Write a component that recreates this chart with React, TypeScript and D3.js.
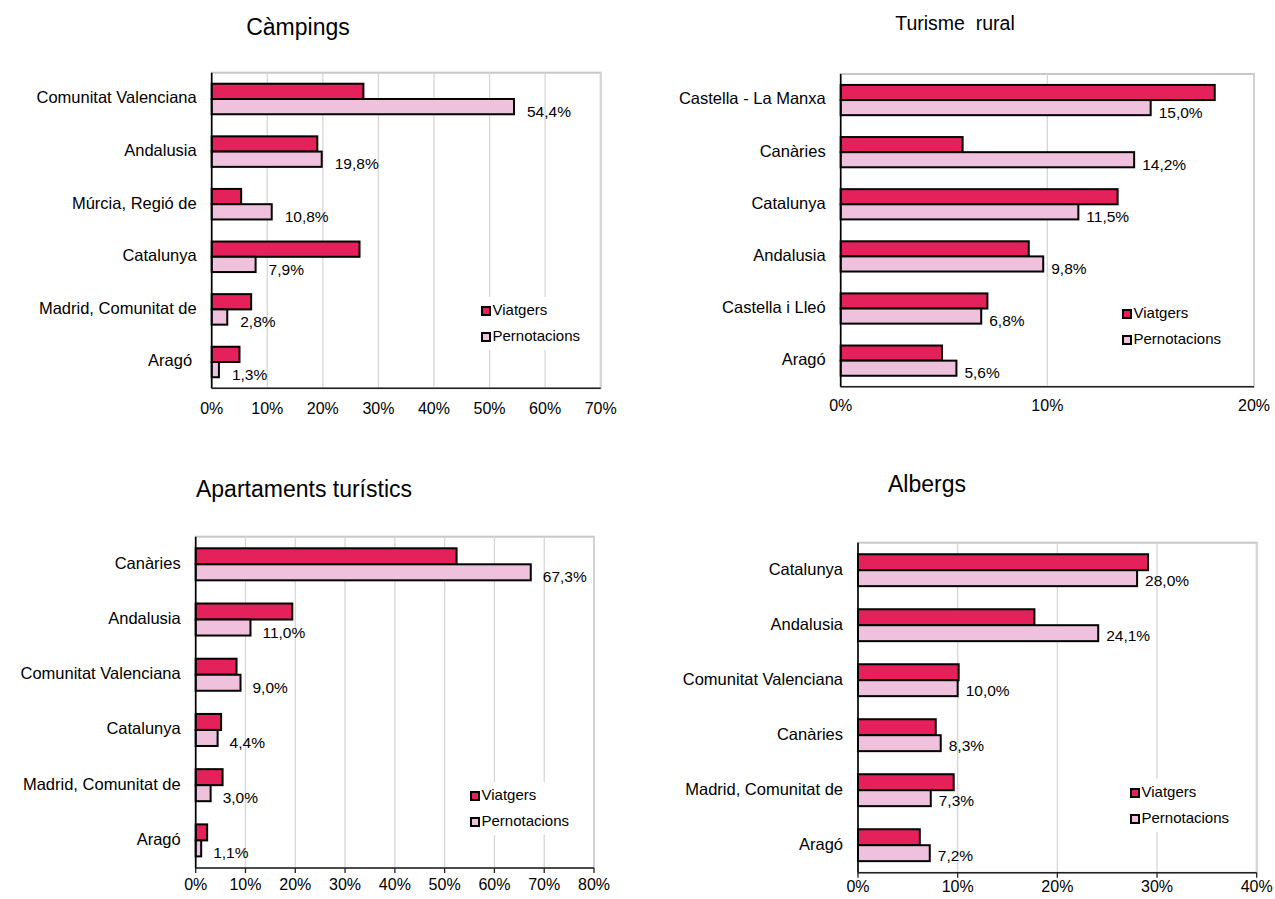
// four small horizontal bar charts - share of viatgers and pernotacions by region, per accommodation type
import React from 'react';
import * as d3 from 'd3';

// series names (legend)
const seriesNames = ['Viatgers', 'Pernotacions'];

// Càmpings
const campCats = ['Comunitat Valenciana', 'Andalusia', 'Múrcia, Regió de', 'Catalunya', 'Madrid, Comunitat de', 'Aragó '];
const campViatgers = [27.3, 19.0, 5.3, 26.6, 7.1, 5.0];
const campPernot = [54.4, 19.8, 10.8, 7.9, 2.8, 1.3];
const campTicks = [0, 10, 20, 30, 40, 50, 60, 70];

// Turisme rural
const ruralCats = ['Castella - La Manxa', 'Canàries', 'Catalunya', 'Andalusia', 'Castella i Lleó', 'Aragó'];
const ruralViatgers = [18.1, 5.9, 13.4, 9.1, 7.1, 4.9];
const ruralPernot = [15.0, 14.2, 11.5, 9.8, 6.8, 5.6];
const ruralTicks = [0, 10, 20];

// Apartaments turístics
const apartCats = ['Canàries', 'Andalusia', 'Comunitat Valenciana', 'Catalunya', 'Madrid, Comunitat de', 'Aragó'];
const apartViatgers = [52.4, 19.4, 8.2, 5.1, 5.4, 2.3];
const apartPernot = [67.3, 11.0, 9.0, 4.4, 3.0, 1.1];
const apartTicks = [0, 10, 20, 30, 40, 50, 60, 70, 80];

// Albergs
const albCats = ['Catalunya', 'Andalusia', 'Comunitat Valenciana', 'Canàries', 'Madrid, Comunitat de', 'Aragó'];
const albViatgers = [29.1, 17.7, 10.1, 7.8, 9.6, 6.2];
const albPernot = [28.0, 24.1, 10.0, 8.3, 7.3, 7.2];
const albTicks = [0, 10, 20, 30, 40];

const FONT = '"Liberation Sans", Arial, sans-serif';
const colors = ['#E5215C', '#F0C1DC'];

const fmt = (v: number) => v.toFixed(1).replace('.', ',') + '%';

type PanelProps = {
  title: string; titleX: number; titleY: number; titleSize: number;
  cats: string[]; viatgers: number[]; pernot: number[]; ticks: number[];
  x0: number; x1: number; y0: number; y1: number; tickDy: number;
  legX: number; legY: number; tickMarks: boolean; labDx: number; labDy: number;
};

const Panel = (p: PanelProps) => {
  const xScale = d3.scaleLinear().domain([0, p.ticks[p.ticks.length - 1]]).range([p.x0, p.x1]);
  // outer band per region, inner band per series
  const yScale = d3.scaleBand().domain(p.cats).range([p.y0, p.y1]).paddingInner(0.42).paddingOuter(0.21);
  const sScale = d3.scaleBand().domain(seriesNames).range([0, yScale.bandwidth()]);
  const rows = p.cats.map((c, i) => ({ cat: c, vals: [p.viatgers[i], p.pernot[i]] }));

  return (
    <g fontFamily={FONT}>
      <text x={p.titleX} y={p.titleY} textAnchor="middle" fontSize={p.titleSize} fill="#000" style={{ whiteSpace: 'pre' }}>{p.title}</text>
      {/* plot frame (top/right) */}
      <rect x={p.x0} y={p.y0} width={p.x1 - p.x0} height={p.y1 - p.y0} fill="none" stroke="#C8C8C8" strokeWidth={2} />
      {/* vertical gridlines */}
      {p.ticks.slice(1).map(t => (
        <line key={t} x1={xScale(t)} x2={xScale(t)} y1={p.y0} y2={p.y1} stroke="#D6D6D6" strokeWidth={1.3} />
      ))}
      {/* legend box hides gridlines behind it */}
      <rect x={p.legX - 4} y={p.legY - 14} width={120} height={53} fill="#fff" />
      {/* bars */}
      {rows.map(r => r.vals.map((v, j) => (
        <rect key={r.cat + j} x={xScale(0)} y={(yScale(r.cat) as number) + (sScale(seriesNames[j]) as number)}
          width={xScale(v) - xScale(0)} height={sScale.bandwidth()} fill={colors[j]} stroke="#000" strokeWidth={2} />
      )))}
      {/* value labels for pernotacions */}
      {rows.map(r => (
        <text key={r.cat + 'l'} x={xScale(r.vals[1]) + p.labDx}
          y={(yScale(r.cat) as number) + (sScale('Pernotacions') as number) + sScale.bandwidth() / 2 + p.labDy}
          dominantBaseline="middle" fontSize={15.5} fill="#000">{fmt(r.vals[1])}</text>
      ))}
      {/* category labels */}
      {p.cats.map(c => (
        <text key={c} x={p.x0 - 15} y={(yScale(c) as number) + yScale.bandwidth() / 2} textAnchor="end"
          dominantBaseline="middle" fontSize={16.5} fill="#000" style={{ whiteSpace: 'pre' }}>{c}</text>
      ))}
      {/* axes */}
      <line x1={p.x0} x2={p.x0} y1={p.y0} y2={p.y1} stroke="#000" strokeWidth={1.6} />
      <line x1={p.x0} x2={p.x1} y1={p.y1} y2={p.y1} stroke="#222" strokeWidth={1.6} />
      {p.tickMarks && p.ticks.map(t => (
        <line key={'m' + t} x1={xScale(t)} x2={xScale(t)} y1={p.y1} y2={p.y1 + 5} stroke="#222" strokeWidth={1.3} />
      ))}
      {p.ticks.map(t => (
        <text key={'t' + t} x={xScale(t)} y={p.y1 + p.tickDy} textAnchor="middle" dominantBaseline="middle" fontSize={16} fill="#000">{t}%</text>
      ))}
      {/* legend */}
      {seriesNames.map((s, j) => (
        <g key={s}>
          <rect x={p.legX + 1} y={p.legY + j * 26 - 4} width={8} height={8} fill={colors[j]} stroke="#000" strokeWidth={2} />
          <text x={p.legX + 11.5} y={p.legY + j * 26} dominantBaseline="middle" fontSize={15} fill="#000">{s}</text>
        </g>
      ))}
    </g>
  );
};

const App = () => (
  <svg width={1275} height={899} style={{ position: 'absolute', left: 0, top: 0, background: '#fff' }}>
    <Panel title="Càmpings" titleX={298} titleY={35} titleSize={23} cats={campCats} viatgers={campViatgers} pernot={campPernot}
      ticks={campTicks} x0={211.7} x1={600.7} y0={72.7} y1={388.3} tickDy={21} legX={481} legY={311} tickMarks={false} labDx={13} labDy={6} />
    <Panel title="Turisme  rural" titleX={955} titleY={30} titleSize={19.5} cats={ruralCats} viatgers={ruralViatgers} pernot={ruralPernot}
      ticks={ruralTicks} x0={840.7} x1={1254} y0={74} y1={386.7} tickDy={20} legX={1122} legY={314} tickMarks={false} labDx={8} labDy={6} />
    <Panel title="Apartaments turístics" titleX={304} titleY={497} titleSize={23} cats={apartCats} viatgers={apartViatgers} pernot={apartPernot}
      ticks={apartTicks} x0={195.7} x1={594} y0={536.7} y1={868} tickDy={17.5} legX={470} legY={796} tickMarks={true} labDx={12} labDy={6} />
    <Panel title="Albergs" titleX={927} titleY={492} titleSize={23} cats={albCats} viatgers={albViatgers} pernot={albPernot}
      ticks={albTicks} x0={858} x1={1256.7} y0={542.7} y1={872.7} tickDy={15.5} legX={1130} legY={793} tickMarks={true} labDx={8} labDy={4} />
  </svg>
);

export default App;
